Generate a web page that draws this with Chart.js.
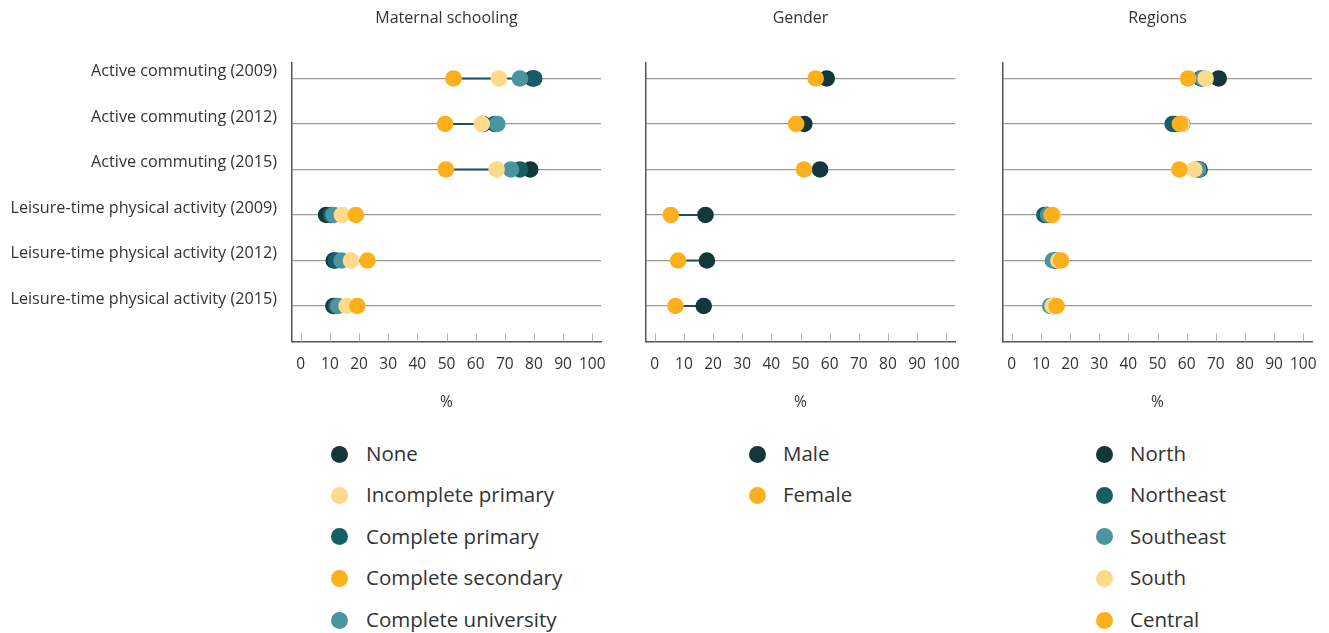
<!DOCTYPE html>
<html>
<head>
<meta charset="utf-8">
<script src="https://cdn.jsdelivr.net/npm/chart.js@4.4.1/dist/chart.umd.min.js"></script>
<style>
  html, body { margin: 0; padding: 0; background: #ffffff; }
  body { width: 1329px; height: 633px; position: relative; overflow: hidden; font-family: "Open Sans", sans-serif; }
  canvas { position: absolute; top: 0; }
  .legend { position: absolute; top: 0; left: 0; }
  .legend .item { position: absolute; white-space: nowrap; color: #333333; font-size: 20.5px; line-height: 24px; }
  .legend .dot { position: absolute; width: 17px; height: 17px; border-radius: 50%; }
</style>
</head>
<body>
<canvas id="chartSchooling" width="612" height="420" style="left:0px"></canvas>
<canvas id="chartGender" width="345" height="420" style="left:620px"></canvas>
<canvas id="chartRegions" width="349" height="420" style="left:980px"></canvas>
<div class="legend" id="legends"></div>

<script>
// Indicators (rows, top to bottom)
const rowLabels = [
  'Active commuting (2009)',
  'Active commuting (2012)',
  'Active commuting (2015)',
  'Leisure-time physical activity (2009)',
  'Leisure-time physical activity (2012)',
  'Leisure-time physical activity (2015)'
];
const xTickValues = [0, 10, 20, 30, 40, 50, 60, 70, 80, 90, 100];

// Maternal schooling (%)
const schoolingNone               = [79.5, 62.5, 78.7,  8.7, 11.3, 11.2];
const schoolingIncompletePrimary  = [68.0, 62.1, 67.2, 14.1, 17.2, 15.7];
const schoolingCompletePrimary    = [80.1, 66.5, 75.2, 10.4, 12.0, 12.0];
const schoolingCompleteSecondary  = [52.4, 49.5, 49.8, 18.9, 22.9, 19.4];
const schoolingCompleteUniversity = [75.2, 67.4, 72.1, 11.2, 14.0, 12.8];

// Gender (%)
const genderMale   = [59.0, 51.3, 56.7, 17.4, 17.9, 16.8];
const genderFemale = [55.2, 48.5, 51.2,  5.5,  8.0,  7.1];

// Regions (%)
const regionNorth     = [71.0, 56.0, 64.4, 12.0, 15.0, 14.5];
const regionNortheast = [64.9, 55.2, 63.8, 11.2, 15.0, 14.3];
const regionSoutheast = [65.5, 58.5, 64.0, 12.5, 14.1, 13.2];
const regionSouth     = [66.5, 58.3, 62.6, 14.2, 16.0, 14.0];
const regionCentral   = [60.5, 57.7, 57.5, 13.7, 16.9, 15.4];

const COLORS = {
  darkest: '#13373b',
  darkTeal: '#175d66',
  midTeal: '#4a95a0',
  light: '#fdd98a',
  orange: '#fdb01b',
  link: '#1f4d6c'
};

const FONT = '"Open Sans", sans-serif';

// Panel definitions: series listed in legend order; `z` = stacking (lower = on top)
const panels = [
  {
    id: 'chartSchooling', title: 'Maternal schooling', axisLeft: 292, padRight: 11, showLabels: true,
    legendDotX: 339, legendTextX: 366,
    series: [
      { name: 'None',                data: schoolingNone,               color: COLORS.darkest,  z: 5 },
      { name: 'Incomplete primary',  data: schoolingIncompletePrimary,  color: COLORS.light,    z: 2 },
      { name: 'Complete primary',    data: schoolingCompletePrimary,    color: COLORS.darkTeal, z: 4 },
      { name: 'Complete secondary',  data: schoolingCompleteSecondary,  color: COLORS.orange,   z: 1 },
      { name: 'Complete university', data: schoolingCompleteUniversity, color: COLORS.midTeal,  z: 3 }
    ]
  },
  {
    id: 'chartGender', title: 'Gender', axisLeft: 26, padRight: 10, showLabels: false,
    legendDotX: 757, legendTextX: 783,
    series: [
      { name: 'Male',   data: genderMale,   color: COLORS.darkest, z: 2 },
      { name: 'Female', data: genderFemale, color: COLORS.orange,  z: 1 }
    ]
  },
  {
    id: 'chartRegions', title: 'Regions', axisLeft: 23, padRight: 17, showLabels: false,
    legendDotX: 1104, legendTextX: 1130,
    series: [
      { name: 'North',     data: regionNorth,     color: COLORS.darkest,  z: 5 },
      { name: 'Northeast', data: regionNortheast, color: COLORS.darkTeal, z: 4 },
      { name: 'Southeast', data: regionSoutheast, color: COLORS.midTeal,  z: 3 },
      { name: 'South',     data: regionSouth,     color: COLORS.light,    z: 2 },
      { name: 'Central',   data: regionCentral,   color: COLORS.orange,   z: 1 }
    ]
  }
];

// Panel heading centred over the plotting area
const panelTitlePlugin = {
  id: 'panelTitle',
  afterDraw(chart, args, opts) {
    const { ctx, chartArea } = chart;
    ctx.save();
    ctx.font = '16px ' + FONT;
    ctx.fillStyle = '#333333';
    ctx.textAlign = 'center';
    ctx.textBaseline = 'middle';
    ctx.fillText(opts.text, (chartArea.left + chartArea.right) / 2, 18.5);
    ctx.restore();
  }
};

// Short tick marks rising from the x axis line into the plot
const innerTicksPlugin = {
  id: 'innerTicks',
  afterDatasetsDraw(chart) {
    const { ctx, chartArea } = chart;
    const xs = chart.scales.x;
    ctx.save();
    ctx.strokeStyle = '#b3b3b3';
    ctx.lineWidth = 1;
    xs.ticks.forEach((t) => {
      const px = Math.round(xs.getPixelForValue(t.value)) + 0.5;
      ctx.beginPath();
      ctx.moveTo(px, chartArea.bottom - 8);
      ctx.lineTo(px, chartArea.bottom);
      ctx.stroke();
    });
    ctx.restore();
  }
};

function buildChart(panel) {
  const canvas = document.getElementById(panel.id);
  const H = canvas.height;
  const datasets = [];

  // connector from the lowest to the highest value of each row
  rowLabels.forEach((_, i) => {
    const vals = panel.series.map((s) => s.data[i]);
    datasets.push({
      label: 'range-' + i,
      data: [{ x: Math.min(...vals), y: i }, { x: Math.max(...vals), y: i }],
      showLine: true,
      borderColor: COLORS.link,
      borderWidth: 2,
      pointRadius: 0,
      pointHoverRadius: 0,
      order: 20
    });
  });

  panel.series.forEach((s) => {
    datasets.push({
      label: s.name,
      data: s.data.map((v, i) => ({ x: v, y: i })),
      backgroundColor: s.color,
      borderColor: s.color,
      borderWidth: 0,
      pointRadius: 8.3,
      pointHoverRadius: 8.3,
      order: s.z
    });
  });

  return new Chart(canvas, {
    type: 'scatter',
    data: { datasets },
    plugins: [panelTitlePlugin, innerTicksPlugin],
    options: {
      responsive: false,
      animation: false,
      events: [],
      layout: { padding: { top: 63, right: panel.padRight, left: 0, bottom: 0 } },
      plugins: {
        legend: { display: false },
        tooltip: { enabled: false },
        panelTitle: { text: panel.title }
      },
      scales: {
        x: {
          type: 'linear',
          min: -3,
          max: 103,
          afterBuildTicks(scale) { scale.ticks = xTickValues.map((v) => ({ value: v })); },
          afterFit(scale) {
            scale.height = H - 341.5;
            scale.paddingLeft = 0;
            scale.paddingRight = 0;
          },
          grid: { display: false },
          border: { display: true, color: '#555555', width: 1.5 },
          ticks: {
            color: '#333333',
            font: { family: FONT, size: 15.5 },
            padding: 6,
            maxRotation: 0,
            autoSkip: false
          },
          title: {
            display: true,
            text: '%',
            color: '#333333',
            font: { family: FONT, size: 15.5 },
            padding: { top: 0, bottom: 8.5 }
          }
        },
        y: {
          type: 'linear',
          reverse: true,
          min: -0.34,
          max: 5.78,
          afterBuildTicks(scale) { scale.ticks = rowLabels.map((_, i) => ({ value: i })); },
          afterFit(scale) { scale.width = panel.axisLeft; },
          grid: { display: true, color: '#9a9a9a', lineWidth: 1.3, drawTicks: false },
          border: { display: true, color: '#555555', width: 1.5 },
          ticks: {
            display: panel.showLabels,
            color: '#333333',
            font: { family: FONT, size: 16.2 },
            padding: 15,
            labelOffset: -7,
            callback: (v) => rowLabels[v]
          }
        }
      }
    }
  });
}

panels.forEach(buildChart);

// Legends: one column under each panel
const legendRoot = document.getElementById('legends');
const legendRowY = [454, 495, 536.5, 578, 620];
panels.forEach((panel) => {
  panel.series.forEach((s, i) => {
    const dot = document.createElement('div');
    dot.className = 'dot';
    dot.style.background = s.color;
    dot.style.left = (panel.legendDotX - 8.5) + 'px';
    dot.style.top = (legendRowY[i] - 8.5) + 'px';
    legendRoot.appendChild(dot);

    const item = document.createElement('div');
    item.className = 'item';
    item.textContent = s.name;
    item.style.left = panel.legendTextX + 'px';
    item.style.top = (legendRowY[i] - 13) + 'px';
    legendRoot.appendChild(item);
  });
});
</script>
</body>
</html>
